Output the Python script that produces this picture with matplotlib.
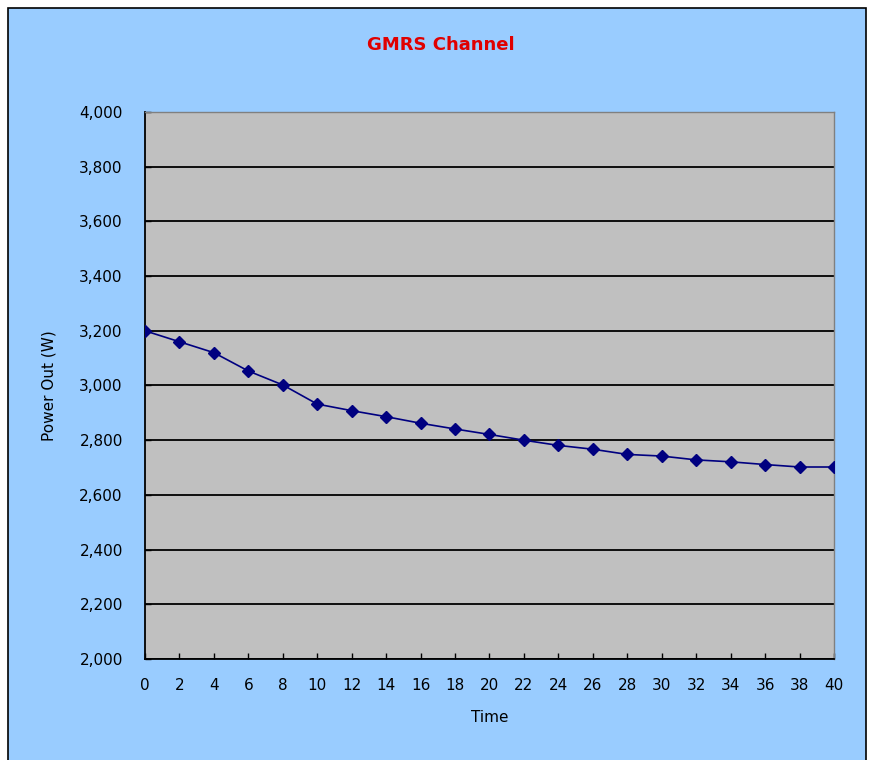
import matplotlib.pyplot as plt
import matplotlib.ticker as mticker
from matplotlib.patches import Rectangle

# Data
time = [0, 2, 4, 6, 8, 10, 12, 14, 16, 18, 20, 22, 24, 26, 28, 30, 32, 34, 36, 38, 40]
power = [3200, 3160, 3120, 3053, 3002, 2932, 2908, 2886, 2862, 2841, 2821,
         2800, 2781, 2767, 2748, 2742, 2728, 2721, 2711, 2702, 2702]

fig = plt.figure(figsize=(8.74, 7.6), dpi=100)
fig.patch.set_facecolor("white")

# light blue chart area with black border
fig.patches.append(Rectangle((8 / 874, -0.01), (866 - 8) / 874, (760 - 8) / 760 + 0.01,
                             transform=fig.transFigure, facecolor="#99CCFF",
                             edgecolor="black", linewidth=1.2, zorder=-10))

ax = fig.add_axes([145 / 874, 101 / 760, 689 / 874, 547 / 760])
ax.set_facecolor("#C0C0C0")

ax.plot(time, power, color="#000080", marker="D", markersize=6, linewidth=1.2, zorder=3)

ax.set_xlim(0, 40)
ax.set_ylim(2000, 4000)
ax.set_xticks(range(0, 41, 2))
ax.set_yticks(range(2000, 4001, 200))
ax.yaxis.set_major_formatter(mticker.StrMethodFormatter("{x:,.0f}"))
ax.grid(True, axis="y", color="black", linewidth=1.3)
ax.set_axisbelow(True)

ax.tick_params(direction="in", length=4, width=1, labelsize=11, colors="black")
ax.tick_params(axis="x", pad=14)
ax.tick_params(axis="y", pad=16)

for side in ["left", "bottom"]:
    ax.spines[side].set_color("black")
    ax.spines[side].set_linewidth(1.3)
for side in ["top", "right"]:
    ax.spines[side].set_color("#808080")
    ax.spines[side].set_linewidth(1)

ax.set_xlabel("Time", fontsize=11, labelpad=12)
ax.set_ylabel("Power Out (W)", fontsize=11, labelpad=16)

fig.text(441 / 874, 1 - 45 / 760, "GMRS Channel", color="#E00000", fontsize=13,
         fontweight="bold", ha="center", va="center")

plt.savefig("out.png", dpi=100, facecolor=fig.get_facecolor())
